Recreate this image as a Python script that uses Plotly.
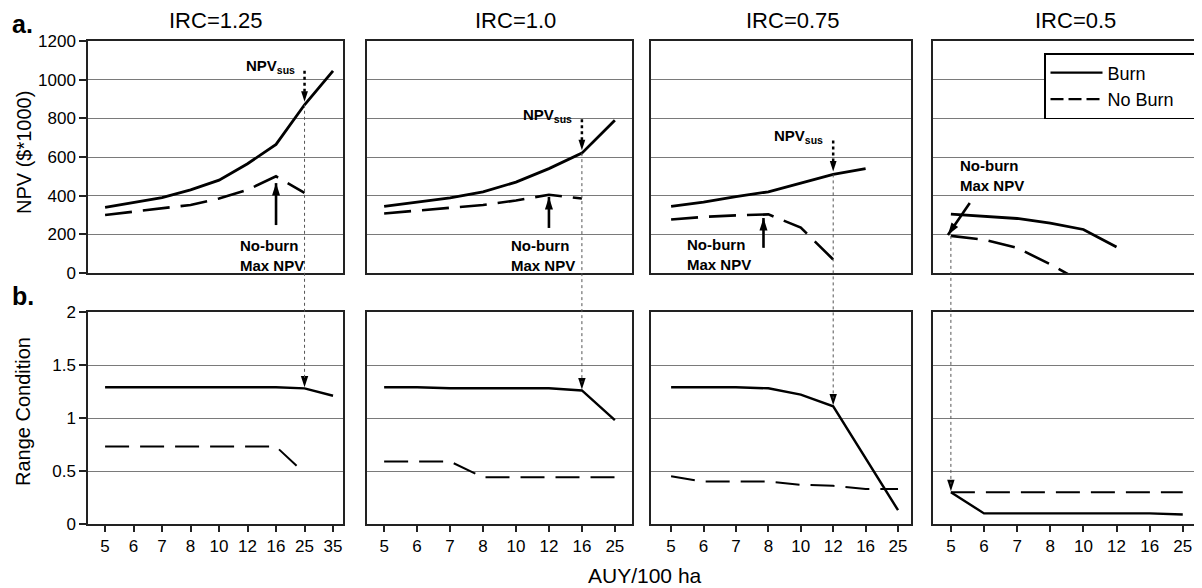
import plotly.graph_objects as go

# ---------------- data ----------------
auy_125 = ["5", "6", "7", "8", "10", "12", "16", "25", "35"]
auy_10 = ["5", "6", "7", "8", "10", "12", "16", "25"]
auy_075 = ["5", "6", "7", "8", "10", "12", "16", "25"]
auy_05 = ["5", "6", "7", "8", "10", "12", "16", "25"]

npv_burn_125 = [340, 365, 390, 430, 480, 565, 665, 870, 1045]
npv_noburn_125 = [300, 318, 335, 352, 385, 430, 500, 415, None]
npv_burn_10 = [345, 367, 389, 420, 470, 540, 620, 790]
npv_noburn_10 = [308, 322, 335, 352, 375, 405, 385, None]
npv_burn_075 = [345, 367, 395, 420, 465, 510, 540, None]
npv_noburn_075 = [277, 290, 298, 303, 235, 70, None, None]
npv_burn_05 = [305, 292, 282, 258, 225, 135, None, None]
npv_noburn_05 = [192, 172, 130, 45, -50, None, None, None]

rc_burn_125 = [1.29, 1.29, 1.29, 1.29, 1.29, 1.29, 1.29, 1.28, 1.21]
rc_noburn_125 = [0.73, 0.73, 0.73, 0.73, 0.73, 0.73, 0.73, 0.48, None]
rc_burn_10 = [1.29, 1.29, 1.28, 1.28, 1.28, 1.28, 1.26, 0.98]
rc_noburn_10 = [0.59, 0.59, 0.59, 0.44, 0.44, 0.44, 0.44, 0.44]
rc_burn_075 = [1.29, 1.29, 1.29, 1.28, 1.22, 1.11, 0.62, 0.13]
rc_noburn_075 = [0.45, 0.40, 0.40, 0.40, 0.37, 0.36, 0.33, 0.33]
rc_burn_05 = [0.30, 0.10, 0.10, 0.10, 0.10, 0.10, 0.10, 0.09]
rc_noburn_05 = [0.30, 0.30, 0.30, 0.30, 0.30, 0.30, 0.30, 0.30]

irc_titles = ["IRC=1.25", "IRC=1.0", "IRC=0.75", "IRC=0.5"]
npv_ticks = [0, 200, 400, 600, 800, 1000, 1200]
rc_ticks = [0, 0.5, 1, 1.5, 2]
legend_names = ["Burn", "No Burn"]

# sustainable stocking index per panel, and which series links top -> bottom
sus_index = [7, 6, 5, 0]
sus_series_top = [npv_burn_125, npv_burn_10, npv_burn_075, npv_noburn_05]
sus_series_bot = [rc_burn_125, rc_burn_10, rc_burn_075, rc_noburn_05]
show_npv_sus = [True, True, True, False]

# "No-burn Max NPV" arrows (tail -> tip, in data units of each top panel)
nb_tip_x = [6, 5, 2.85, -0.09]
nb_tip_y = [465, 393, 284, 197]
nb_tail_x = [6, 5, 2.85, 0.57]
nb_tail_y = [248, 233, 130, 362]
nb_angle = [0, 0, 0, 214]
nb_text_x = [6, 5, 2.85, 0]
nb_text_y = [93, 93, 98, 502]
nb_text_anchor = ["center", "center", "right", "left"]
nb_text_xshift = [-4, -6, -10, 7]

# ---------------- layout geometry (screen pixels) ----------------
SCREEN_W, SCREEN_H = 1202, 588
BODY = 8  # default page margin around the plot div
W, H = SCREEN_W - BODY, SCREEN_H - BODY
X_DOM_PX = [(88, 343), (367, 632), (651, 911), (933, 1197)]
X_RANGES = [(-0.6, 8.35), (-0.52, 7.52), (-0.62, 7.4), (-0.54, 7.43)]
Y_TOP_PX = (41, 273)
Y_BOT_PX = (312, 524)
NPV_RANGE = (0, 1200)
RC_RANGE = (0, 2)

FONT = "Liberation Sans, Arial, Helvetica, sans-serif"


def px_to_paper_x(px):
    return (px - BODY) / W


def px_to_paper_y(py):
    return 1 - (py - BODY) / H


def val_to_paper_y(v, rng, dom_px):
    d0 = px_to_paper_y(dom_px[1])
    d1 = px_to_paper_y(dom_px[0])
    return d0 + (v - rng[0]) / (rng[1] - rng[0]) * (d1 - d0)


cats = [auy_125, auy_10, auy_075, auy_05]
top_burn = [npv_burn_125, npv_burn_10, npv_burn_075, npv_burn_05]
top_noburn = [npv_noburn_125, npv_noburn_10, npv_noburn_075, npv_noburn_05]
bot_burn = [rc_burn_125, rc_burn_10, rc_burn_075, rc_burn_05]
bot_noburn = [rc_noburn_125, rc_noburn_10, rc_noburn_075, rc_noburn_05]

DASH_TOP = "27px,11px"
DASH_BOT = "24px,11px"

fig = go.Figure()

for i in range(4):
    xs = list(range(len(cats[i])))
    xa_t, ya_t = f"x{i+1}", f"y{i+1}"
    xa_b, ya_b = f"x{i+5}", f"y{i+5}"
    fig.add_trace(go.Scatter(x=xs, y=top_burn[i], xaxis=xa_t, yaxis=ya_t,
                             mode="lines", name="Burn", showlegend=False,
                             line=dict(color="black", width=2.8), connectgaps=False,
                             hoverinfo="skip"))
    fig.add_trace(go.Scatter(x=xs, y=top_noburn[i], xaxis=xa_t, yaxis=ya_t,
                             mode="lines", name="No Burn", showlegend=False,
                             line=dict(color="black", width=2.6, dash=DASH_TOP),
                             connectgaps=False, hoverinfo="skip"))
    fig.add_trace(go.Scatter(x=xs, y=bot_burn[i], xaxis=xa_b, yaxis=ya_b,
                             mode="lines", name="Burn", showlegend=False,
                             line=dict(color="black", width=2.4), hoverinfo="skip"))
    fig.add_trace(go.Scatter(x=xs, y=bot_noburn[i], xaxis=xa_b, yaxis=ya_b,
                             mode="lines", name="No Burn", showlegend=False,
                             line=dict(color="black", width=2.0, dash=DASH_BOT),
                             hoverinfo="skip"))

# legend entries (sample styles)
NBSP = "\u00a0" * 3
fig.add_trace(go.Scatter(x=[None], y=[None], xaxis="x4", yaxis="y4", mode="lines",
                         name=legend_names[0] + NBSP, showlegend=True,
                         line=dict(color="black", width=2.2)))
fig.add_trace(go.Scatter(x=[None], y=[None], xaxis="x4", yaxis="y4", mode="lines",
                         name=legend_names[1] + NBSP, showlegend=True,
                         line=dict(color="black", width=2.2, dash="13px,5px")))

layout = dict(
    width=W, height=H, autosize=False,
    margin=dict(l=0, r=0, t=0, b=0, pad=0),
    paper_bgcolor="white", plot_bgcolor="white",
    font=dict(family=FONT, color="black", size=17),
    showlegend=True,
    legend=dict(x=px_to_paper_x(1196), xanchor="right",
                y=px_to_paper_y(53), yanchor="top",
                bgcolor="white", bordercolor="black", borderwidth=1.5,
                font=dict(size=18, family=FONT), itemwidth=52,
                tracegroupgap=0),
)

axis_common = dict(showline=True, mirror=True, linecolor="#222", linewidth=1.5,
                   zeroline=False, fixedrange=True, automargin=False)

for i in range(4):
    xd = [px_to_paper_x(X_DOM_PX[i][0]), px_to_paper_x(X_DOM_PX[i][1])]
    idx = list(range(len(cats[i])))
    layout[f"xaxis{i+1}"] = dict(axis_common, domain=xd, anchor=f"y{i+1}", type="linear",
                                 range=list(X_RANGES[i]), showticklabels=False,
                                 ticks="", showgrid=False)
    layout[f"yaxis{i+1}"] = dict(axis_common,
                                 domain=[px_to_paper_y(Y_TOP_PX[1]), px_to_paper_y(Y_TOP_PX[0])],
                                 anchor=f"x{i+1}", range=list(NPV_RANGE),
                                 tickvals=npv_ticks, showgrid=True, gridcolor="#7a7a7a",
                                 gridwidth=1, showticklabels=(i == 0),
                                 ticks="outside" if i == 0 else "", ticklen=7,
                                 tickcolor="#222", tickwidth=1.5,
                                 tickfont=dict(size=17))
    layout[f"xaxis{i+5}"] = dict(axis_common, domain=xd, anchor=f"y{i+5}", type="linear",
                                 range=list(X_RANGES[i]), tickmode="array",
                                 tickvals=idx, ticktext=cats[i], showticklabels=True,
                                 ticks="outside", ticklen=6, tickcolor="#222", tickwidth=1.5,
                                 showgrid=False, tickfont=dict(size=17))
    layout[f"yaxis{i+5}"] = dict(axis_common,
                                 domain=[px_to_paper_y(Y_BOT_PX[1]), px_to_paper_y(Y_BOT_PX[0])],
                                 anchor=f"x{i+5}", range=list(RC_RANGE),
                                 tickvals=rc_ticks, showgrid=True, gridcolor="#7a7a7a",
                                 gridwidth=1, showticklabels=(i == 0),
                                 ticks="outside" if i == 0 else "", ticklen=7,
                                 tickcolor="#222", tickwidth=1.5,
                                 tickfont=dict(size=17))

fig.update_layout(**layout)

annotations = []
shapes = []

# panel titles
title_centers_px = [216, 516, 793, 1075]
for i in range(4):
    annotations.append(dict(text=irc_titles[i], xref="paper", yref="paper",
                            x=px_to_paper_x(title_centers_px[i]), y=px_to_paper_y(21),
                            xanchor="center", yanchor="middle", showarrow=False,
                            font=dict(size=22, family=FONT)))

# panel letters
annotations.append(dict(text="<b>a.</b>", xref="paper", yref="paper",
                        x=px_to_paper_x(10), y=px_to_paper_y(24), xanchor="left",
                        yanchor="middle", showarrow=False, font=dict(size=25, family=FONT)))
annotations.append(dict(text="<b>b.</b>", xref="paper", yref="paper",
                        x=px_to_paper_x(10), y=px_to_paper_y(296), xanchor="left",
                        yanchor="middle", showarrow=False, font=dict(size=25, family=FONT)))

# axis titles
annotations.append(dict(text="NPV ($*1000)", xref="paper", yref="paper",
                        x=px_to_paper_x(24), y=px_to_paper_y(153), textangle=-90,
                        xanchor="center", yanchor="middle", showarrow=False,
                        font=dict(size=20, family=FONT)))
annotations.append(dict(text="Range Condition", xref="paper", yref="paper",
                        x=px_to_paper_x(23), y=px_to_paper_y(412), textangle=-90,
                        xanchor="center", yanchor="middle", showarrow=False,
                        font=dict(size=20, family=FONT)))
annotations.append(dict(text="AUY/100 ha", xref="paper", yref="paper",
                        x=px_to_paper_x(645), y=px_to_paper_y(575),
                        xanchor="center", yanchor="middle", showarrow=False,
                        font=dict(size=21, family=FONT)))


def arrowhead(xa, ya, x, y, angle, size, standoff=0):
    fig.add_trace(go.Scatter(x=[x], y=[y], xaxis=xa, yaxis=ya, mode="markers",
                             showlegend=False, hoverinfo="skip", cliponaxis=False,
                             marker=dict(symbol="arrow", angle=angle, size=size,
                                         color="black", standoff=standoff,
                                         line=dict(width=0))))


# sustainable links: dotted vertical line top->bottom with arrowhead, NPVsus arrow
for i in range(4):
    k = sus_index[i]
    vt = sus_series_top[i][k]
    vb = sus_series_bot[i][k]
    y_top = val_to_paper_y(vt, NPV_RANGE, Y_TOP_PX)
    y_bot = val_to_paper_y(vb, RC_RANGE, Y_BOT_PX)
    shapes.append(dict(type="line", xref=f"x{i+5}", yref="paper", x0=k, x1=k,
                       y0=y_top, y1=y_bot + 8 / H,
                       line=dict(color="#555", width=1, dash="dot")))
    arrowhead(f"x{i+5}", f"y{i+5}", k, vb, 180, 12, 1)
    if show_npv_sus[i]:
        shapes.append(dict(type="line", xref=f"x{i+1}", yref="paper", x0=k, x1=k,
                           y0=y_top + 34 / H, y1=y_top + 10 / H,
                           line=dict(color="black", width=2.5, dash="dot")))
        arrowhead(f"x{i+1}", f"y{i+1}", k, vt, 180, 11, 3)
        annotations.append(dict(text="<b>NPV<sub>sus</sub></b>", xref=f"x{i+1}", yref="paper",
                                x=k, y=y_top + 38 / H, xanchor="right", yanchor="middle",
                                xshift=-8, showarrow=False,
                                font=dict(size=15, family=FONT)))

# No-burn Max NPV arrows and labels
for i in range(4):
    shapes.append(dict(type="line", xref=f"x{i+1}", yref=f"y{i+1}",
                       x0=nb_tail_x[i], y0=nb_tail_y[i], x1=nb_tip_x[i], y1=nb_tip_y[i],
                       line=dict(color="black", width=2.6)))
    arrowhead(f"x{i+1}", f"y{i+1}", nb_tip_x[i], nb_tip_y[i], nb_angle[i], 13, 0)
    annotations.append(dict(text="<b>No-burn<br>Max NPV</b>", xref=f"x{i+1}", yref=f"y{i+1}",
                            x=nb_text_x[i], y=nb_text_y[i], xanchor=nb_text_anchor[i],
                            yanchor="middle", xshift=nb_text_xshift[i], align="left",
                            showarrow=False, font=dict(size=15, family=FONT)))

fig.update_layout(annotations=annotations, shapes=shapes)

fig.write_html("out.html")
